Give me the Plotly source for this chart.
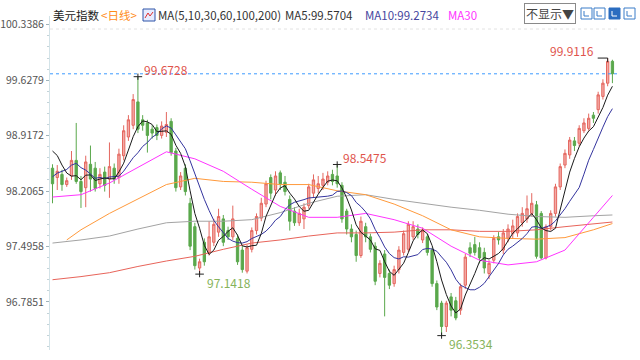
import plotly.graph_objects as go
import pandas as pd

# ---------------- data ----------------
# closes before the visible window (only used for MA5 / MA10)
pre_closes = [98.00, 98.05, 98.10, 98.05, 98.10, 98.75, 98.90, 98.85, 98.80]

opens = [98.50, 98.38, 98.42, 98.29, 98.40, 98.60, 98.33, 98.25, 98.55, 98.50,
         98.30, 98.45, 98.36, 98.50, 98.38, 98.66, 98.90, 99.05, 99.35, 99.12,
         99.08, 99.00, 99.02, 98.92, 98.96, 99.10, 98.72, 98.26, 98.50, 98.05,
         97.75, 97.22, 97.55, 97.42, 97.55, 97.68, 97.85, 97.70, 97.62, 97.60,
         97.45, 97.18, 97.46, 97.70, 97.86, 98.04, 98.38, 98.22, 98.44, 98.32,
         98.10, 97.95, 97.80, 97.85, 98.02, 98.18, 98.24, 98.28, 98.32, 98.42,
         98.40, 98.28, 97.95, 97.72, 97.65, 97.38, 97.75, 97.62, 97.50, 97.15,
         97.40, 97.15, 97.02, 97.20, 97.42, 97.46, 97.62, 97.72, 97.58, 97.62,
         97.45, 97.02, 96.77, 96.47, 96.85, 96.80, 96.68, 97.00, 97.48, 97.52,
         97.48, 97.42, 97.15, 97.32, 97.62, 97.45, 97.60, 97.66, 97.67, 97.80,
         97.85, 97.92, 98.03, 97.92, 97.35, 97.75, 97.92, 98.26, 98.54, 98.67,
         98.85, 98.82, 98.98, 99.01, 99.18, 99.25, 99.42, 99.59, 99.87]
highs = [98.55, 98.54, 98.48, 98.38, 98.72, 99.08, 98.40, 98.66, 98.79, 98.58,
         98.50, 98.52, 98.83, 98.56, 98.75, 99.05, 99.18, 99.45, 99.6728, 99.18,
         99.12, 99.05, 99.06, 99.10, 99.22, 99.14, 98.76, 98.45, 98.55, 98.12,
         97.80, 97.34, 97.60, 97.82, 97.85, 97.98, 97.90, 97.75, 98.02, 97.65,
         97.50, 97.52, 97.74, 97.92, 98.12, 98.34, 98.42, 98.46, 98.47, 98.40,
         98.15, 98.00, 97.98, 98.05, 98.30, 98.42, 98.40, 98.44, 98.46, 98.48,
         98.5475, 98.32, 97.98, 97.78, 97.70, 97.88, 97.80, 97.66, 97.55, 97.32,
         97.45, 97.20, 97.25, 97.50, 97.70, 97.82, 97.82, 97.78, 97.74, 97.66,
         97.48, 97.06, 96.80, 96.80, 96.90, 96.85, 97.02, 97.40, 97.55, 97.62,
         97.55, 97.48, 97.32, 97.64, 97.68, 97.72, 97.78, 97.84, 97.92, 98.00,
         98.15, 98.18, 98.08, 97.95, 97.78, 97.96, 98.30, 98.56, 98.74, 98.90,
         98.90, 99.05, 99.14, 99.20, 99.22, 99.48, 99.64, 99.9116, 99.89]
lows = [98.05, 98.22, 98.21, 98.26, 98.35, 98.30, 97.99, 98.00, 98.20, 98.20,
        98.24, 98.20, 98.12, 98.30, 98.30, 98.60, 98.85, 99.00, 98.95, 98.98,
        98.70, 98.88, 98.86, 98.88, 98.90, 98.66, 98.20, 98.22, 98.15, 97.45,
        97.20, 97.1418, 97.25, 97.38, 97.50, 97.62, 97.50, 97.58, 97.58, 97.26,
        97.16, 97.15, 97.42, 97.65, 97.82, 98.00, 98.10, 98.15, 98.22, 98.15,
        97.70, 97.76, 97.76, 97.72, 97.98, 98.12, 98.18, 98.22, 98.28, 98.28,
        98.25, 97.80, 97.65, 97.55, 97.30, 97.35, 97.55, 97.42, 97.00, 97.10,
        96.60, 96.95, 96.98, 97.15, 97.38, 97.42, 97.58, 97.60, 97.54, 97.38,
        96.98, 96.68, 96.3534, 96.40, 96.60, 96.55, 96.62, 96.95, 97.36, 97.38,
        97.28, 97.15, 97.08, 97.28, 97.52, 97.40, 97.55, 97.60, 97.62, 97.75,
        97.80, 97.88, 97.34, 97.33, 97.33, 97.70, 97.88, 98.22, 98.50, 98.62,
        98.72, 98.78, 98.95, 98.98, 99.08, 99.20, 99.38, 99.55, 99.59]
closes = [98.30, 98.46, 98.29, 98.34, 98.60, 98.33, 98.20, 98.58, 98.36, 98.24,
          98.42, 98.28, 98.52, 98.36, 98.68, 98.98, 99.12, 99.38, 99.00, 99.05,
          98.92, 98.95, 98.92, 99.04, 99.06, 98.70, 98.25, 98.40, 98.20, 97.50,
          97.25, 97.30, 97.30, 97.62, 97.78, 97.88, 97.55, 97.62, 97.85, 97.30,
          97.20, 97.48, 97.70, 97.88, 98.05, 98.30, 98.18, 98.40, 98.30, 98.20,
          97.82, 97.80, 97.92, 98.00, 98.26, 98.35, 98.30, 98.36, 98.40, 98.33,
          98.30, 97.85, 97.72, 97.62, 97.38, 97.82, 97.62, 97.46, 97.05, 97.28,
          97.10, 97.00, 97.20, 97.45, 97.66, 97.78, 97.75, 97.65, 97.70, 97.42,
          97.02, 96.72, 96.47, 96.77, 96.68, 96.58, 96.98, 97.36, 97.41, 97.42,
          97.35, 97.22, 97.28, 97.60, 97.58, 97.67, 97.72, 97.76, 97.88, 97.92,
          97.98, 98.05, 97.37, 97.35, 97.75, 97.92, 98.26, 98.52, 98.69, 98.86,
          98.79, 99.01, 99.08, 99.14, 99.14, 99.44, 99.59, 99.87, 99.71]

ma_idx = [0, 6, 12, 18, 24, 30, 36, 42, 48, 54, 60, 66, 72, 78, 84, 90, 96, 102, 108, 114, 118]
ma60_idx = [3, 6, 12, 18, 24, 30, 36, 42, 48, 54, 60, 66, 72, 78, 84, 90, 96, 102, 108, 114, 118]
ma30 = [98.13, 98.16, 98.31, 98.51, 98.71, 98.62, 98.46, 98.23, 98.01, 97.87, 97.87,
        97.92, 97.84, 97.73, 97.50, 97.32, 97.26, 97.30, 97.45, 97.87, 98.15]
ma60 = [97.58, 97.71, 97.92, 98.11, 98.29, 98.37, 98.33, 98.32, 98.29, 98.29, 98.21,
        98.16, 98.04, 97.89, 97.71, 97.62, 97.60, 97.59, 97.61, 97.71, 97.79]
ma100 = [97.54, 97.58, 97.63, 97.72, 97.80, 97.82, 97.82, 97.84, 97.93, 98.05, 98.14,
         98.16, 98.10, 98.05, 98.00, 97.96, 97.91, 97.88, 97.87, 97.89, 97.90]
ma200 = [97.07, 97.11, 97.16, 97.24, 97.31, 97.37, 97.46, 97.54, 97.58, 97.63, 97.67,
         97.67, 97.68, 97.71, 97.71, 97.69, 97.69, 97.71, 97.75, 97.79, 97.81]

marked_highs = [18, 60, 117]
marked_lows = [31, 82]

y_ticks = [100.3386, 99.6279, 98.9172, 98.2065, 97.4958, 96.7851]
header_ma5 = "MA5:99.5704"
header_ma10 = "MA10:99.2734"

# ---------------- figure ----------------
n = len(closes)
xs = list(range(n))
full = pd.Series(pre_closes + closes)
ma5 = full.rolling(5).mean().iloc[len(pre_closes):].tolist()
ma10 = full.rolling(10).mean().iloc[len(pre_closes):].tolist()

FONT = "Noto Sans CJK SC, sans-serif"
L, R, T, B, W, H = 50, 20, 16, 10, 640, 360
PW, PH = W - L - R, H - T - B


def px(x):
    return (x - L) / PW


def py(y):
    return (H - B - y) / PH


fig = go.Figure()
fig.add_trace(go.Candlestick(
    x=xs, open=opens, high=highs, low=lows, close=closes,
    increasing=dict(line=dict(color="#e4675f", width=1), fillcolor="#f3aaa5"),
    decreasing=dict(line=dict(color="#5aa84c", width=1), fillcolor="#5aa84c"),
    whiskerwidth=0, hoverinfo="skip", showlegend=False))

lines = [
    (ma_idx, ma200, "#e8645a"),
    (ma_idx, ma100, "#a3a3a3"),
    (ma60_idx, ma60, "#ff9a3c"),
    (ma_idx, ma30, "#ff33ff"),
    (xs, ma10, "#34349e"),
    (xs, ma5, "#1a1a1a"),
]
for xv, yv, col in lines:
    fig.add_trace(go.Scatter(x=xv, y=yv, mode="lines", line=dict(color=col, width=1),
                             hoverinfo="skip", showlegend=False))

shapes = []
annos = []
# current price dashed line
shapes.append(dict(type="line", xref="paper", yref="y", x0=0, x1=1,
                   y0=closes[-1], y1=closes[-1],
                   line=dict(color="#3d9bff", width=1, dash="3px,3px")))
# faint dotted line near top
shapes.append(dict(type="line", xref="paper", yref="paper", x0=0, x1=1,
                   y0=py(29), y1=py(29), line=dict(color="#e2e2e2", width=1, dash="dot")))

for i in marked_highs:
    v = highs[i]
    if i == n - 2 or i == n - 1:
        shapes.append(dict(type="line", x0=i - 2.1, x1=i, y0=v, y1=v, line=dict(color="#222", width=1)))
        shapes.append(dict(type="line", x0=i, x1=i, y0=v, y1=v - 0.05, line=dict(color="#222", width=1)))
        annos.append(dict(x=i - 2.1, y=v, text=f"{v:.4f}", showarrow=False, xanchor="right",
                          yanchor="middle", xshift=-2, yshift=8,
                          font=dict(color="#e0544c", size=12, family=FONT)))
    else:
        shapes.append(dict(type="line", x0=i - 0.9, x1=i + 0.9, y0=v, y1=v, line=dict(color="#222", width=1)))
        shapes.append(dict(type="line", x0=i, x1=i, y0=v - 0.04, y1=v + 0.04, line=dict(color="#222", width=1)))
        annos.append(dict(x=i, y=v, text=f"{v:.4f}", showarrow=False, xanchor="left",
                          yanchor="middle", xshift=4, yshift=7,
                          font=dict(color="#e0544c", size=12, family=FONT)))
for i in marked_lows:
    v = lows[i]
    shapes.append(dict(type="line", x0=i - 0.9, x1=i + 0.9, y0=v, y1=v, line=dict(color="#222", width=1)))
    shapes.append(dict(type="line", x0=i, x1=i, y0=v - 0.04, y1=v + 0.04, line=dict(color="#222", width=1)))
    annos.append(dict(x=i, y=v, text=f"{v:.4f}", showarrow=False, xanchor="left",
                      yanchor="middle", xshift=5, yshift=-8,
                      font=dict(color="#86b35a", size=12, family=FONT)))

# header
hy = py(15)
header = [
    ("美元指数", 51, "#222"),
    ("&lt;日线&gt;", 99, "#ff8c1a"),
    ("MA(5,10,30,60,100,200)", 156, "#333"),
    (header_ma5, 283, "#333"),
    (header_ma10, 363, "#46469e"),
    ("MA30", 446, "#ff33ff"),
]
for txt, x, col in header:
    annos.append(dict(xref="paper", yref="paper", x=px(x), y=hy, text=txt, showarrow=False,
                      xanchor="left", yanchor="middle",
                      font=dict(color=col, size=11.5, family=FONT)))
# MA icon
shapes.append(dict(type="rect", xref="paper", yref="paper", x0=px(143), x1=px(155),
                   y0=py(21), y1=py(9), line=dict(color="#2f55a8", width=1), fillcolor="#e6ecff"))
shapes.append(dict(type="path", xref="paper", yref="paper",
                   path=f"M {px(145)},{py(18)} L {px(148)},{py(13)} L {px(150)},{py(16)} L {px(153)},{py(12)}",
                   line=dict(color="#e03030", width=1)))
# dropdown box
annos.append(dict(xref="paper", yref="paper", x=px(524), y=py(13), text="不显示▼", showarrow=False,
                  xanchor="left", yanchor="middle", bordercolor="#8a8a8a", borderwidth=1, borderpad=1,
                  bgcolor="white", font=dict(color="#444", size=12, family=FONT)))
# tool icons
for k, (x0, fill, lc) in enumerate([(581, "#ffffff", "#3a7cc8"), (594, "#ffffff", "#3a7cc8"),
                                    (609, "#2a6cc0", "#2a6cc0"), (624, "#ffffff", "#3a7cc8")]):
    shapes.append(dict(type="rect", xref="paper", yref="paper", x0=px(x0), x1=px(x0 + 11),
                       y0=py(19), y1=py(8), line=dict(color=lc, width=1), fillcolor=fill))
    gl = "#ffffff" if fill != "#ffffff" else "#3a7cc8"
    shapes.append(dict(type="path", xref="paper", yref="paper",
                       path=f"M {px(x0 + 3)},{py(11)} L {px(x0 + 3)},{py(16)} L {px(x0 + 8)},{py(16)}",
                       line=dict(color=gl, width=1)))

# y range keeps 78 px per index point with the plot top at 16 px
y_top = 99.6728 + (76.7 - T) / 78
y_bot = 99.6728 - (H - B - 76.7) / 78

fig.update_layout(
    width=W, height=H, margin=dict(l=L, r=R, t=T, b=B, autoexpand=False),
    paper_bgcolor="white", plot_bgcolor="white",
    font=dict(family=FONT),
    shapes=shapes, annotations=annos, showlegend=False,
    xaxis=dict(range=[-0.527, 119.6], visible=False, automargin=False,
               rangeslider=dict(visible=False)),
    yaxis=dict(range=[y_bot, y_top], tickmode="array", tickvals=y_ticks,
               ticktext=[f"{v:.4f}" for v in y_ticks], automargin=False,
               ticks="outside", ticklen=3, tickcolor="#9fb3bb",
               showline=True, linecolor="#d3e3e8", linewidth=1,
               showgrid=False, zeroline=False,
               tickfont=dict(size=10.5, color="#555", family=FONT),
               minor=dict(tickmode="linear", tick0=96.7851, dtick=0.14214, ticks="outside",
                          ticklen=2, tickcolor="#c3d3d8", showgrid=False)),
)

fig.write_html("out.html", config={"displayModeBar": False, "staticPlot": True},
               post_script="document.body.style.margin='0px';")
